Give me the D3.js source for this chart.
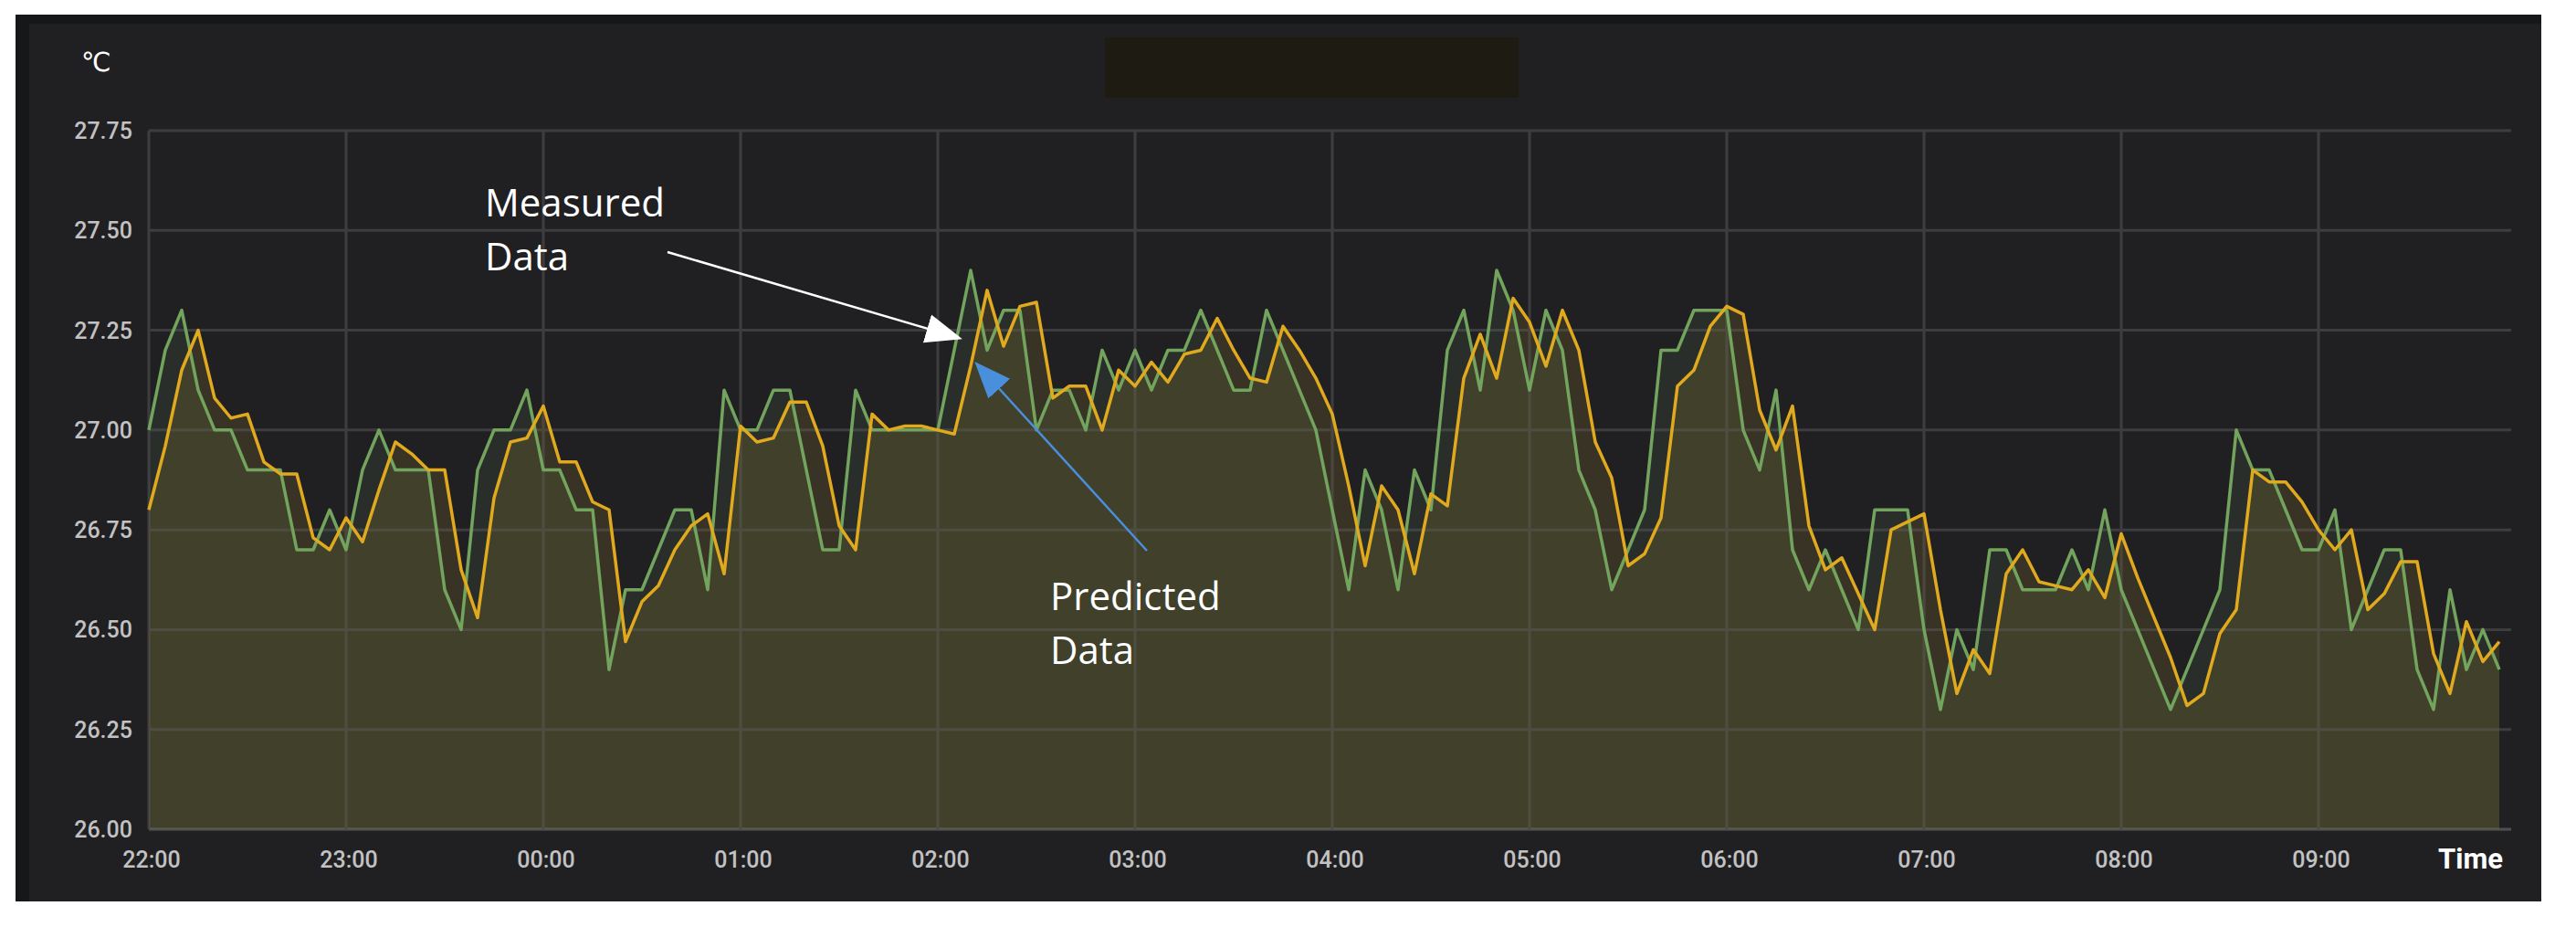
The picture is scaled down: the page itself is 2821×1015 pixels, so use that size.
<!DOCTYPE html>
<html>
<head>
<meta charset="utf-8">
<script src="https://cdn.jsdelivr.net/npm/d3@7"></script>
<style>
  body { margin: 0; background: #ffffff; }
  svg { display: block; }
</style>
</head>
<body>
<div id="chart"></div>
<script>
// 5-minute samples from 22:00 to 09:55
const measured = [
    27.0, 27.2, 27.3, 27.1, 27.0, 27.0, 26.9, 26.9, 26.9, 26.7, 26.7, 26.8, 26.7, 26.9, 27.0, 26.9, 26.9, 26.9, 26.6, 26.5, 26.9, 27.0, 27.0, 27.1,
    26.9, 26.9, 26.8, 26.8, 26.4, 26.6, 26.6, 26.7, 26.8, 26.8, 26.6, 27.1, 27.0, 27.0, 27.1, 27.1, 26.9, 26.7, 26.7, 27.1, 27.0, 27.0, 27.0, 27.0,
    27.0, 27.2, 27.4, 27.2, 27.3, 27.3, 27.0, 27.1, 27.1, 27.0, 27.2, 27.1, 27.2, 27.1, 27.2, 27.2, 27.3, 27.2, 27.1, 27.1, 27.3, 27.2, 27.1, 27.0,
    26.8, 26.6, 26.9, 26.8, 26.6, 26.9, 26.8, 27.2, 27.3, 27.1, 27.4, 27.3, 27.1, 27.3, 27.2, 26.9, 26.8, 26.6, 26.7, 26.8, 27.2, 27.2, 27.3, 27.3,
    27.3, 27.0, 26.9, 27.1, 26.7, 26.6, 26.7, 26.6, 26.5, 26.8, 26.8, 26.8, 26.5, 26.3, 26.5, 26.4, 26.7, 26.7, 26.6, 26.6, 26.6, 26.7, 26.6, 26.8,
    26.6, 26.5, 26.4, 26.3, 26.4, 26.5, 26.6, 27.0, 26.9, 26.9, 26.8, 26.7, 26.7, 26.8, 26.5, 26.6, 26.7, 26.7, 26.4, 26.3, 26.6, 26.4, 26.5, 26.4
];
const predicted = [
    26.80, 26.96, 27.15, 27.25, 27.08, 27.03, 27.04, 26.92, 26.89, 26.89, 26.73, 26.70, 26.78, 26.72, 26.85, 26.97, 26.94, 26.90, 26.90, 26.65, 26.53, 26.83, 26.97, 26.98,
    27.06, 26.92, 26.92, 26.82, 26.80, 26.47, 26.57, 26.61, 26.70, 26.76, 26.79, 26.64, 27.01, 26.97, 26.98, 27.07, 27.07, 26.96, 26.76, 26.70, 27.04, 27.00, 27.01, 27.01,
    27.00, 26.99, 27.16, 27.35, 27.21, 27.31, 27.32, 27.08, 27.11, 27.11, 27.00, 27.15, 27.11, 27.17, 27.12, 27.19, 27.20, 27.28, 27.20, 27.13, 27.12, 27.26, 27.20, 27.13,
    27.04, 26.86, 26.66, 26.86, 26.80, 26.64, 26.84, 26.81, 27.13, 27.24, 27.13, 27.33, 27.27, 27.16, 27.30, 27.20, 26.97, 26.88, 26.66, 26.69, 26.78, 27.11, 27.15, 27.26,
    27.31, 27.29, 27.05, 26.95, 27.06, 26.76, 26.65, 26.68, 26.59, 26.50, 26.75, 26.77, 26.79, 26.55, 26.34, 26.45, 26.39, 26.64, 26.70, 26.62, 26.61, 26.60, 26.65, 26.58,
    26.74, 26.63, 26.53, 26.43, 26.31, 26.34, 26.49, 26.55, 26.90, 26.87, 26.87, 26.82, 26.75, 26.70, 26.75, 26.55, 26.59, 26.67, 26.67, 26.44, 26.34, 26.52, 26.42, 26.47
];
const yTicks = [26.00, 26.25, 26.50, 26.75, 27.00, 27.25, 27.50, 27.75];
const startTime = new Date(2020, 0, 1, 22, 0);
const endTime = new Date(2020, 0, 2, 10, 0);
const stepMinutes = 5;

const W = 2821, H = 1015;
const plot = { left: 163, right: 2750, top: 143, bottom: 908 };

const svg = d3.select("#chart").append("svg")
    .attr("width", W).attr("height", H);

/* panel background */
svg.append("rect").attr("x", 17).attr("y", 16).attr("width", 2766).attr("height", 971).attr("fill", "#161719");
svg.append("rect").attr("x", 32).attr("y", 26).attr("width", 2751).attr("height", 961).attr("fill", "#202023");

/* blacked-out title */
svg.append("rect").attr("x", 1210).attr("y", 41).attr("width", 453).attr("height", 66).attr("fill", "#1e1b12");

const x = d3.scaleTime().domain([startTime, endTime]).range([plot.left, plot.left + 12 * 216]);
const y = d3.scaleLinear().domain([26, 27.75]).range([plot.bottom, plot.top]);

const toPoints = vals => vals.map((v, i) => ({ t: d3.timeMinute.offset(startTime, i * stepMinutes), v }));
const measuredPts = toPoints(measured);
const predictedPts = toPoints(predicted);

/* gridlines */
const grid = svg.append("g");
grid.selectAll(".hg").data(yTicks).join("line")
    .attr("x1", plot.left).attr("x2", plot.right)
    .attr("y1", d => y(d)).attr("y2", d => y(d))
    .attr("stroke", d => d === 26 ? "#4e4e52" : "#3d3d40").attr("stroke-width", 3);
const hourTicks = d3.timeHour.range(startTime, endTime);
grid.selectAll(".vg").data(hourTicks).join("line")
    .attr("x1", d => x(d)).attr("x2", d => x(d))
    .attr("y1", plot.top).attr("y2", plot.bottom)
    .attr("stroke", "#3d3d40").attr("stroke-width", 3);

/* areas and lines */
const area = d3.area().x(d => x(d.t)).y0(y(26)).y1(d => y(d.v));
const line = d3.line().x(d => x(d.t)).y(d => y(d.v));

svg.append("path").attr("d", area(measuredPts)).attr("fill", "#7eb26d").attr("fill-opacity", 0.1);
svg.append("path").attr("d", area(predictedPts)).attr("fill", "#eab839").attr("fill-opacity", 0.13);

/* redraw gridlines faintly over the fill */
grid.clone(true).raise().attr("opacity", 0.35);

svg.append("path").attr("d", line(measuredPts)).attr("fill", "none")
    .attr("stroke", "#73a45e").attr("stroke-width", 3.5).attr("stroke-linejoin", "round");
svg.append("path").attr("d", line(predictedPts)).attr("fill", "none")
    .attr("stroke", "#e0a91e").attr("stroke-width", 3.5).attr("stroke-linejoin", "round");

/* axis labels */
svg.append("g").selectAll("text").data(yTicks).join("text")
    .attr("x", 145).attr("y", d => y(d) + 9)
    .attr("text-anchor", "end")
    .attr("font-family", "Roboto, 'DejaVu Sans', sans-serif").attr("font-weight", 500)
    .attr("font-size", 25).attr("fill", "#c2c2c2")
    .text(d => d.toFixed(2));

const fmt = d3.timeFormat("%H:%M");
svg.append("g").selectAll("text").data(hourTicks).join("text")
    .attr("x", d => x(d) + 3).attr("y", 950)
    .attr("text-anchor", "middle")
    .attr("font-family", "Roboto, 'DejaVu Sans', sans-serif").attr("font-weight", 500)
    .attr("font-size", 25).attr("fill", "#c2c2c2")
    .text(d => fmt(d));

svg.append("text").attr("x", 2741).attr("y", 951).attr("text-anchor", "end")
    .attr("font-family", "Roboto, sans-serif").attr("font-weight", 700)
    .attr("font-size", 31).attr("fill", "#ffffff").text("Time");
svg.append("text").attr("x", 89).attr("y", 78)
    .attr("font-family", "'DejaVu Sans', sans-serif")
    .attr("font-size", 29).attr("fill", "#ffffff").text("℃");

/* annotations */
const defs = svg.append("defs");
[["arrWhite", "#ffffff"], ["arrBlue", "#4a8fdc"]].forEach(([id, c]) => {
    defs.append("marker").attr("id", id).attr("viewBox", "0 0 10 10")
        .attr("refX", 9).attr("refY", 5).attr("markerWidth", 12).attr("markerHeight", 12)
        .attr("markerUnits", "userSpaceOnUse").attr("orient", "auto")
        .attr("markerWidth", 40).attr("markerHeight", 40)
        .append("path").attr("d", "M0,1 L10,5 L0,9 Z").attr("fill", c);
});
svg.append("line").attr("x1", 731).attr("y1", 276).attr("x2", 1050).attr("y2", 370)
    .attr("stroke", "#ffffff").attr("stroke-width", 2.5).attr("marker-end", "url(#arrWhite)");
svg.append("line").attr("x1", 1256).attr("y1", 603).attr("x2", 1070).attr("y2", 399)
    .attr("stroke", "#4a8fdc").attr("stroke-width", 2.5).attr("marker-end", "url(#arrBlue)");

const noteFont = "'Open Sans', 'Noto Sans', sans-serif";
const addNote = (xPos, yPos, lines) => {
    const t = svg.append("text").attr("font-family", noteFont).attr("font-size", 42).attr("fill", "#ffffff");
    lines.forEach((s, i) => t.append("tspan").attr("x", xPos).attr("y", yPos + i * 59).text(s));
};
addNote(531, 237, ["Measured", "Data"]);
addNote(1150, 668, ["Predicted", "Data"]);
</script>
</body>
</html>
